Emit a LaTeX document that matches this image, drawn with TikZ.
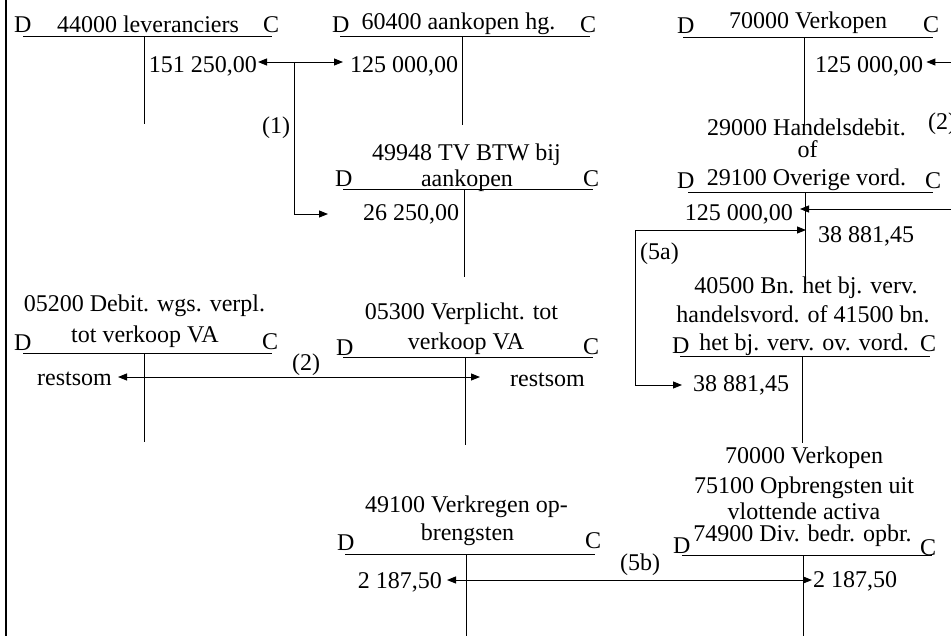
\documentclass[tikz,border=0pt]{standalone}
\usepackage{fontspec}
\setmainfont{Liberation Serif}
\usetikzlibrary{arrows.meta,calc}
\begin{document}
\begin{tikzpicture}[x=1pt,y=-1pt,
  txt/.style={font=\fontsize{24}{27}\selectfont, inner sep=0pt, anchor=base},
  tline/.style={line width=0.9pt},
  arr/.style={line width=0.9pt, -{Triangle[length=9pt,width=7pt]}},
  darr/.style={line width=0.9pt, {Triangle[length=9pt,width=7pt]}-{Triangle[length=9pt,width=7pt]}}]
\useasboundingbox (0,0) rectangle (951,635);
\draw[line width=2.4pt] (6,-2) -- (6,640);

% Account 1: 44000 leveranciers
\node[txt,anchor=base west] (d1) at (14,32) {D};
\node[txt] (t1) at (148,32) {44000 leveranciers};
\node[txt,anchor=base west] (c1) at (263,32) {C};
\draw[tline] (23,36) -- (272,36) (144,36) -- (144,124);
\node[txt,anchor=base east] (e1) at (257,72) {151 250,00};

% Account 2: 60400 aankopen hg.
\node[txt,anchor=base west] (d2) at (332,32) {D};
\node[txt] (t2) at (458.5,29) {60400 aankopen hg.};
\node[txt,anchor=base west] (c2) at (580,32) {C};
\draw[tline] (340,36) -- (590,36) (462,36) -- (462,125);
\node[txt,anchor=base west] (e2) at (350,72) {125 000,00};

% Account 3: 49948 TV BTW bij aankopen
\node[txt] (t3a) at (466.5,160) {49948 TV BTW bij};
\node[txt] (t3b) at (467,186) {aankopen};
\node[txt,anchor=base west] (d3) at (335,186) {D};
\node[txt,anchor=base west] (c3) at (583,186) {C};
\draw[tline] (343,189) -- (593,189) (464,189) -- (464,277);
\node[txt,anchor=base west] (e3) at (363,220) {26 250,00};

% Account 4: 70000 Verkopen (top)
\node[txt,anchor=base west] (d4) at (677,33) {D};
\node[txt] (t4) at (808,28) {70000 Verkopen};
\node[txt,anchor=base west] (c4) at (923,32) {C};
\draw[tline] (683,37) -- (933,37) (804,37) -- (804,125);
\node[txt,anchor=base west] (e4) at (815,72) {125 000,00};

% Account 5: 29000 / 29100
\node[txt] (t5a) at (806.5,135) {29000 Handelsdebit.};
\node[txt] (t5b) at (807.5,157) {of};
\node[txt] (t5c) at (806.5,185) {29100 Overige vord.};
\node[txt,anchor=base west] (d5) at (677,188) {D};
\node[txt,anchor=base west] (c5) at (925,188) {C};
\draw[tline] (688,192) -- (933,192) (805,192) -- (805,282);
\node[txt,anchor=base east] (e5a) at (793,220) {125 000,00};
\node[txt,anchor=base west] (e5b) at (818,242) {38 881,45};

% Account 6: 40500 / 41500
\node[txt] (t6a) at (806,293) {40500 Bn. het bj. verv.};
\node[txt] (t6b) at (803,322) {handelsvord. of 41500 bn.};
\node[txt] (t6c) at (804,350) {het bj. verv. ov. vord.};
\node[txt,anchor=base west] (d6) at (672,353) {D};
\node[txt,anchor=base west] (c6) at (920,351) {C};
\draw[tline] (680,356) -- (930,356) (802,356) -- (802,443);
\node[txt,anchor=base west] (e6) at (693,391) {38 881,45};

% Account 7: 05200
\node[txt] (t7a) at (144.5,311) {05200 Debit. wgs. verpl.};
\node[txt] (t7b) at (145,342) {tot verkoop VA};
\node[txt,anchor=base west] (d7) at (14,350) {D};
\node[txt,anchor=base west] (c7) at (262,349) {C};
\draw[tline] (23,353) -- (272,353) (144,353) -- (144,442);
\node[txt,anchor=base east] (e7) at (112,385) {restsom};

% Account 8: 05300
\node[txt] (t8a) at (461.5,319) {05300 Verplicht. tot};
\node[txt] (t8b) at (466,349) {verkoop VA};
\node[txt,anchor=base west] (d8) at (336,355) {D};
\node[txt,anchor=base west] (c8) at (583,354) {C};
\draw[tline] (343,357) -- (593,357) (465,357) -- (465,445);
\node[txt,anchor=base west] (e8) at (510,386) {restsom};

% Account 9: 49100
\node[txt] (t9a) at (466.5,512) {49100 Verkregen op-};
\node[txt] (t9b) at (467.5,540) {brengsten};
\node[txt,anchor=base west] (d9) at (337,550) {D};
\node[txt,anchor=base west] (c9) at (585,548) {C};
\draw[tline] (345,554) -- (595,554) (466,554) -- (466,640);
\node[txt,anchor=base east] (e9) at (442,588) {2 187,50};

% Account 10: 70000 / 75100 / 74900
\node[txt] (t10a) at (804,463) {70000 Verkopen};
\node[txt] (t10b) at (804,493) {75100 Opbrengsten uit};
\node[txt,text depth=0pt] (t10c) at (804,519) {vlottende activa};
\node[txt] (t10d) at (802.5,541) {74900 Div. bedr. opbr.};
\node[txt,anchor=base west] (d10) at (673,553) {D};
\node[txt,anchor=base west] (c10) at (920,555) {C};
\draw[tline] (682,555) -- (932,555) (803,555) -- (803,640);
\node[txt,anchor=base west] (e10) at (813,587) {2 187,50};

% Labels
\node[txt,anchor=base west] (l1) at (262,133) {(1)};
\node[txt,anchor=base west] (l2a) at (928,129) {(2)};
\node[txt,anchor=base west] (l5a) at (640,259) {(5a)};
\node[txt,anchor=base west] (l2b) at (292,370) {(2)};
\node[txt,anchor=base west] (l5b) at (620,570) {(5b)};

% Connectors
% (1)
\draw[darr] ($(e1.base east)+(1,-10)$) -- ($(e2.base west)+(-7,-10)$);
\coordinate (j1) at (294,62);
\draw[arr] (j1) |- ($(e3.base west)+(-35,-6)$);
% (2) top right, running off the picture
\coordinate (r1) at (965,62);
\coordinate (r2) at (965,209);
\draw[arr] (r1) -- ($(e4.base east)+(3,-10)$);
\draw[arr] (r2) -- ($(e5a.base east)+(7,-11)$);
% (5a)
\coordinate (j5) at (635,230);
\draw[arr] (j5) -- ($(e5b.base west)+(-12,-12)$);
\draw[arr] (j5) |- ($(e6.base west)+(-11,-6)$);
% (2) lower
\draw[darr] ($(e7.base east)+(6,-8)$) -- ($(e8.base west)+(-30,-9)$);
% (5b)
\draw[darr] ($(e9.base east)+(5,-8)$) -- ($(e10.base west)+(-1,-7)$);
\end{tikzpicture}
\end{document}
